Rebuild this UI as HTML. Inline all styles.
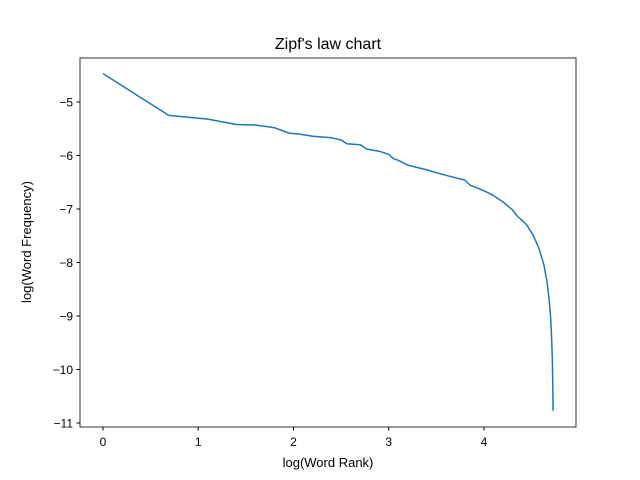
<!DOCTYPE html>
<html><head><meta charset="utf-8"><style>
body{margin:0;background:#fff}
svg{display:block;font-family:"Liberation Sans","DejaVu Sans",sans-serif}
</style></head><body>
<svg id="chart" width="640" height="480">
<rect width="640" height="480" fill="#fff"/>
<text x="328" y="49" font-size="16" text-anchor="middle">Zipf's law chart</text>
<g id="axes"></g>
<path id="line" fill="none" stroke="#1f77b4" stroke-width="1.5" stroke-linejoin="round"/>
<rect x="80" y="58" width="496" height="369" fill="none" stroke="#000" stroke-width="0.8"/>
<text x="328" y="467" font-size="13" text-anchor="middle">log(Word Rank)</text>
<text transform="translate(31,242) rotate(-90)" font-size="13" text-anchor="middle">log(Word Frequency)</text>
</svg>
<script>
const xs=[0,0.69,1.1,1.4,1.6,1.8,1.95,2.1,2.2,2.4,2.5,2.56,2.7,2.77,2.9,3.0,3.05,3.1,3.2,3.4,3.6,3.8,3.85,4.0,4.1,4.2,4.3,4.35,4.45,4.52,4.58,4.63,4.66,4.685,4.70,4.71,4.717,4.722,4.725];
const ys=[-4.47,-5.25,-5.32,-5.42,-5.43,-5.48,-5.58,-5.61,-5.64,-5.67,-5.71,-5.78,-5.80,-5.88,-5.92,-5.98,-6.06,-6.09,-6.18,-6.27,-6.37,-6.46,-6.55,-6.66,-6.75,-6.87,-7.02,-7.13,-7.3,-7.5,-7.75,-8.05,-8.35,-8.7,-9.05,-9.4,-9.8,-10.3,-10.77];
const xTicks=[0,1,2,3,4];
const yTicks=[-5,-6,-7,-8,-9,-10,-11];
function X(v){return 103+v*95.25;}
function Y(v){return 102+(-5-v)*53.5;}
const ns="http://www.w3.org/2000/svg";
const ax=document.getElementById('axes');
xTicks.forEach(t=>{
  const l=document.createElementNS(ns,'line');
  l.setAttribute('x1',X(t));l.setAttribute('x2',X(t));l.setAttribute('y1',427);l.setAttribute('y2',430.5);l.setAttribute('stroke','#000');
  
  
  ax.appendChild(l);
  const tx=document.createElementNS(ns,'text');
  tx.setAttribute('x',X(t));tx.setAttribute('y',446);tx.setAttribute('font-size','12');tx.setAttribute('text-anchor','middle');
  tx.textContent=t;
  
  
  ax.appendChild(tx);
});
yTicks.forEach(t=>{
  const l=document.createElementNS(ns,'line');
  l.setAttribute('x1',76.5);l.setAttribute('x2',80);l.setAttribute('y1',Y(t));l.setAttribute('y2',Y(t));l.setAttribute('stroke','#000');
  
  
  ax.appendChild(l);
  const tx=document.createElementNS(ns,'text');
  tx.setAttribute('x',73);tx.setAttribute('y',Y(t)+4.5);tx.setAttribute('font-size','12');tx.setAttribute('text-anchor','end');
  tx.textContent='\u2212'+Math.abs(t);
  
  
  ax.appendChild(tx);
});
document.getElementById('line').setAttribute('d',xs.map((v,i)=>(i?'L':'M')+X(v).toFixed(1)+' '+Y(ys[i]).toFixed(1)).join(' '));
</script>
</body></html>
